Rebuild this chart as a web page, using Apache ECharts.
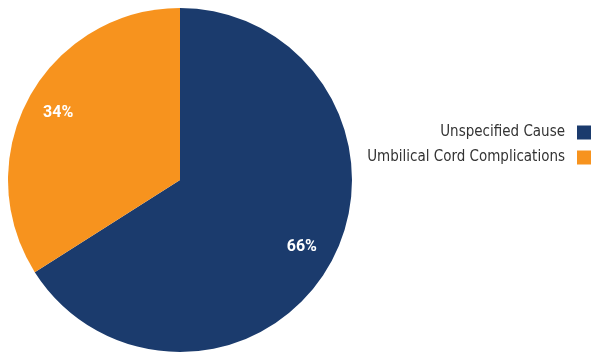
<!DOCTYPE html>
<html><head><meta charset="utf-8">
<script src="https://cdn.jsdelivr.net/npm/echarts@6/dist/echarts.min.js"></script>
<style>html,body{margin:0;padding:0;background:#fff}#c{width:592px;height:352px}</style>
</head><body><div id="c"></div>
<script>
const categories = ["Unspecified Cause", "Umbilical Cord Complications"];
const values = [66, 34];
const colors = ["#1b3b6d", "#f7931e"];
const data = categories.map((n, i) => ({ name: n, value: values[i], itemStyle: { color: colors[i] } }));
const chart = echarts.init(document.getElementById('c'));
chart.setOption({
  animation: false,
  legend: {
    orient: 'vertical', right: 1, top: 125, align: 'right', padding: 0,
    itemWidth: 14, itemHeight: 14, itemGap: 10,
    icon: 'rect',
    textStyle: { fontFamily: '"DejaVu Sans Condensed", sans-serif', fontSize: 15, color: '#333', padding: [0, 7, 0, 0] },
    data: categories
  },
  series: [{
    type: 'pie', center: [180, 180], radius: [0, 172], startAngle: 90, clockwise: true,
    label: { show: false }, labelLine: { show: false }, silent: true,
    data: data
  }, {
    type: 'pie', center: [180, 180], radius: [100, 172], startAngle: 90, clockwise: true,
    silent: true, legendHoverLink: false,
    itemStyle: { color: 'rgba(0,0,0,0)' },
    label: { show: true, position: 'inside', formatter: '{c}%', color: '#fff', fontWeight: 'bold', fontSize: 16, fontFamily: 'Roboto, sans-serif' },
    labelLine: { show: false },
    data: categories.map((n, i) => ({ name: n + ' ', value: values[i], itemStyle: { color: 'rgba(0,0,0,0)' } }))
  }]
});
</script></body></html>
